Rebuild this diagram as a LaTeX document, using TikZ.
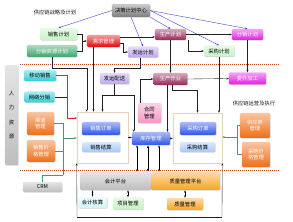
\documentclass[tikz,border=0pt]{standalone}
\usepackage{fontspec}
\setmainfont{Noto Sans CJK SC}
\usetikzlibrary{calc,arrows.meta,shadows}
\definecolor{plangray}{RGB}{125,125,125}
\definecolor{lgreen}{RGB}{195,245,195}
\definecolor{mgreen}{RGB}{60,165,105}
\definecolor{dred}{RGB}{225,10,10}
\definecolor{lpurple}{RGB}{190,165,240}
\definecolor{wine}{RGB}{150,40,90}
\definecolor{mag}{RGB}{225,30,225}
\definecolor{cyanbox}{RGB}{50,205,215}
\definecolor{orng}{RGB}{240,110,20}
\definecolor{pinkbox}{RGB}{245,150,195}
\definecolor{bluebox}{RGB}{45,85,235}
\definecolor{lblue}{RGB}{165,200,250}
\definecolor{lgray}{RGB}{190,190,190}
\definecolor{qorange}{RGB}{248,165,35}
\definecolor{lcyan}{RGB}{210,245,250}
\definecolor{planblue}{RGB}{70,70,200}
\definecolor{dotline}{RGB}{185,75,20}
\definecolor{framecol}{RGB}{232,212,185}
\definecolor{linkgreen}{RGB}{70,150,120}
\definecolor{linkred}{RGB}{215,40,40}

\begin{document}
\begin{tikzpicture}[x=1pt,y=-1pt,>={Stealth[length=2.4pt,width=2pt]},
  blk/.style={rounded corners=1.2pt,top color=#1!40!white,bottom color=#1,drop shadow={shadow xshift=0.7pt,shadow yshift=-0.7pt,opacity=0.35},inner sep=0pt,font=\fontsize{5.3}{6.3}\selectfont,align=center},
  sz/.style 2 args={minimum width=#1pt,minimum height=#2pt},
  wt/.style={text=white},
  lnk/.style={gray!25!black,line width=0.35pt},
  pln/.style={planblue,line width=0.4pt},
  sidelnk/.style={linkgreen,line width=0.4pt},
  redlnk/.style={linkred,line width=0.4pt},
  dotsep/.style={dotline,line width=1pt,dash pattern=on 1pt off 1pt},
  dbl/.style={<->,line width=0.8pt,>={Latex[length=3pt,width=2.6pt]}},
  dblthin/.style={<->,line width=0.45pt,>={Latex[length=2.2pt,width=2pt]}},
  caption/.style={font=\fontsize{5.3}{6.3}\selectfont,text=gray!20!black}]
\useasboundingbox (0,0) rectangle (293,222);
\coordinate (dl1) at (20,65); \coordinate (dr1) at (280,65);
\coordinate (dl2) at (20,171); \coordinate (dr2) at (280,171);
\draw[dotsep] (dl1) -- (dr1);
\draw[dotsep] (dl2) -- (dr2);
\node[caption] (toptitle) at (55,12) {供应链战略及计划};
\node[caption] (optitle) at (254,103) {供应链运营及执行};
\node[draw=framecol,fill=white,line width=0.6pt,sz={51}{51}] (salesbox) at (102.5,137.5) {};
\node[draw=framecol,fill=white,line width=0.6pt,sz={49}{50}] (purbox) at (197.5,138) {};
\node[blk=plangray,sz={38}{13}] (plan) at (131,10.5) {决策计划中心};
\node[blk=lgreen,sz={37}{12}] (salesplan) at (58.5,34) {销售计划};
\node[blk=mgreen,wt,sz={50}{12}] (drp) at (52,51) {分销资源计划};
\node[blk=dred,wt,sz={33}{12}] (demand) at (103.5,41) {需求管理};
\node[blk=lpurple,sz={30}{11}] (shipplan) at (143,52) {发运计划};
\node[blk=wine,wt,sz={31}{11}] (prodplan) at (170.5,34.5) {生产计划};
\node[blk=mag,wt,sz={31}{11}] (distplan) at (247.5,34.5) {分销计划};
\node[blk=lgreen,sz={30}{11}] (purplan) at (219,51) {采购计划};
\node[blk=lgray,sz={13}{100}] (hr) at (11.5,115) {人\\[8pt]力\\[8pt]资\\[8pt]源};
\node[blk=cyanbox,sz={32}{11}] (mobile) at (40,75.5) {移动销售};
\node[blk=cyanbox,sz={30}{11}] (online) at (39.5,97) {网络分销};
\node[blk=orng,wt,sz={27}{23}] (channel) at (40.5,123.5) {渠道\\管理};
\node[blk=orng,wt,sz={28}{22}] (saleprice) at (41,151) {销售价\\格管理};
\node[blk=lgray,sz={39}{10}] (crm) at (42.5,187) {CRM};
\node[blk=lpurple,sz={29}{11}] (shipdeliv) at (114.5,78.5) {发运配送};
\node[blk=wine,wt,sz={34}{12}] (prodop) at (170.5,79) {生产作业};
\node[blk=mag,wt,sz={37}{12}] (outsrc) at (247.5,78.5) {委外加工};
\node[blk=pinkbox,sz={23}{20}] (contract) at (149.5,113) {合同\\管理};
\node[blk=bluebox,wt,sz={38}{13}] (salesorder) at (101,128.5) {销售订单};
\node[blk=lblue,sz={38}{10}] (salesset) at (101,147) {销售结算};
\node[blk=bluebox,wt,sz={38}{13}] (inventory) at (151,138.5) {库存管理};
\node[blk=bluebox,wt,sz={36}{13}] (purorder) at (198,128.5) {采购订单};
\node[blk=lblue,sz={35}{10}] (purset) at (197.5,147) {采购结算};
\node[blk=orng,wt,sz={30}{25}] (supplier) at (255,125.5) {供应商\\管理};
\node[blk=orng,wt,sz={28}{25}] (purprice) at (256,154.5) {采购价\\格管理};
\node[blk=lgray,sz={71}{18}] (acct) at (115.5,181) {会计平台};
\node[blk=qorange,sz={69}{18}] (qplat) at (185.5,181) {质量管理平台};
\node[blk=lcyan,sz={29}{11}] (acctcalc) at (92.5,202.5) {会计核算};
\node[blk=lgreen,sz={30}{12}] (project) at (128,203.5) {项目管理};
\node[blk=qorange,sz={36}{12}] (quality) at (185,204) {质量管理};
\draw[pln,->] (plan.west) -- (salesplan.north);
\draw[pln,->] (plan.south) -- (shipplan.north);
\draw[pln,->] (plan.south east) -- (prodplan.north);
\draw[pln,->] (plan.east) -- (distplan.north);
\draw[pln,->] (plan.east) -- (purplan.north);
\coordinate (dj) at (82,41);
\draw[lnk] (salesplan.east) -| (dj);
\draw[lnk] (drp.east) -| (dj);
\draw[lnk,->] (dj) -- (demand.west);
\draw[lnk,->] ([yshift=4pt]demand.east) -- ([yshift=-2.5pt]prodplan.west);
\draw[lnk,->] ([yshift=-2pt]demand.east) -- ++(3,0) |- (shipplan.west);
\draw[lnk,->] (prodplan.east) -- (distplan.west);
\draw[lnk,->] ([xshift=2pt]prodplan.south east) |- (purplan.west);
\draw[lnk,->] (prodplan.south) -- (prodop.north);
\draw[lnk,->] (distplan.south) -- (outsrc.north);
\draw[lnk,->] (purplan.south) -- (purplan.south |- purbox.north);
\draw[lnk,->] ([xshift=-3pt]shipplan.south) -- ++(0,10) -| (shipdeliv.north);
\draw[lnk,->] (drp.south) -- ++(0,11) -| ([xshift=10pt]salesbox.north west);
\draw[lnk,->] ([xshift=-10pt]demand.south) -- ([xshift=-10pt]demand.south |- salesbox.north);
\coordinate (redin) at (77,118);
\draw[redlnk,->] (mobile.east) -| ($(redin)+(-10,0)$) -- (redin);
\draw[lnk] (online.east) -- ++(12.5,0);
\coordinate (gtop) at (63,123.5); \coordinate (gmid) at (63,138); \coordinate (gj) at (63,175);
\draw[sidelnk] (channel.east) -- (gtop);
\draw[sidelnk] (saleprice.east) -- (saleprice.east -| gtop);
\draw[sidelnk] (gtop) -- (gj);
\draw[sidelnk,->] (gmid) -- (gmid -| salesbox.west);
\draw[sidelnk] (crm.north) |- (gj);
\coordinate (sj) at (114.5,95);
\draw[lnk] (shipdeliv.south) -- (sj);
\draw[lnk,->] (sj) -| (salesbox.north);
\draw[lnk,->] (sj) -| ([xshift=2pt]inventory.north west);
\draw[lnk,->] ([xshift=2pt]contract.north west) |- (prodop.west);
\draw[lnk,->] (prodop.east) -- (outsrc.west);
\coordinate (pj) at ([xshift=-3pt]prodop.south);
\draw[lnk,->] (pj) -- (pj |- inventory.north);
\coordinate (pk) at ([xshift=2pt]prodop.south);
\draw[lnk,->] (pk) -- ++(0,5) -| (purbox.north);
\draw[lnk,->] (salesbox.east) -- (salesbox.east -| inventory.west);
\draw[lnk,->] (inventory.east) -- (inventory.east -| purbox.west);
\coordinate (vj) at (237,137);
\draw[sidelnk] (supplier.west) -- ++(-3,0) |- (purprice.west);
\draw[sidelnk,->] (vj) -- (vj -| purbox.east);
\coordinate (i1) at ([xshift=-14pt]inventory.south);
\coordinate (i2) at ([xshift=-3pt]inventory.south);
\coordinate (i3) at ([xshift=8pt]inventory.south);
\draw[dblthin] (i1) -- (i1 |- acct.north);
\draw[dbl] (i2) -- (i2 |- acct.north);
\draw[dblthin] (i3) -- (i3 |- qplat.north);
\draw[dblthin] (acct.south -| acctcalc.north) -- (acctcalc.north);
\draw[dblthin] (acct.south -| project.north) -- (project.north);
\draw[dblthin] (qplat.south -| quality.north) -- (quality.north);
\coordinate (fl) at (77,217); \coordinate (fr) at (222,217);
\draw[lnk] (fl) -- (fr);
\draw[lnk,->] (fl) -- (salesbox.south west);
\draw[lnk,->] (fr) -- (purbox.south east);
\end{tikzpicture}
\end{document}
